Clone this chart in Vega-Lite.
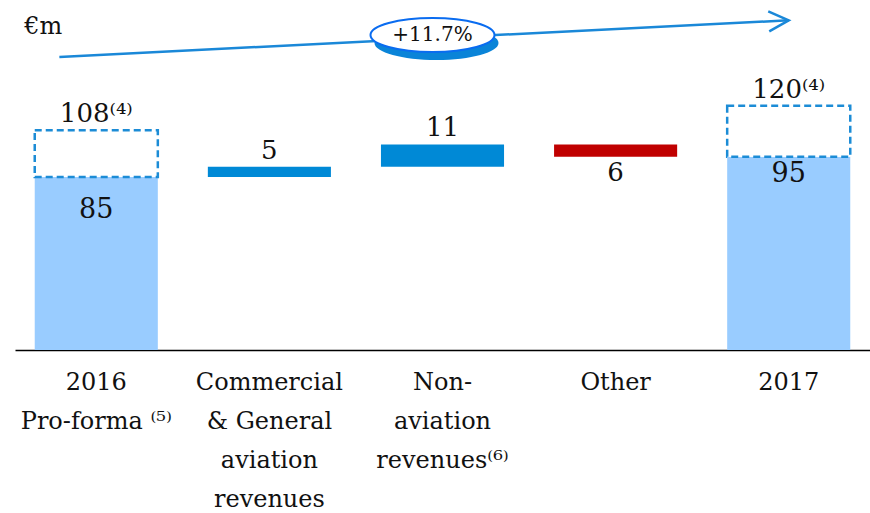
{
  "$schema": "https://vega.github.io/schema/vega-lite/v6.json",
  "width": 855,
  "height": 350,
  "padding": {"left": 15, "top": 0, "right": 0, "bottom": 163},
  "autosize": {"type": "none"},
  "config": {
    "view": {"stroke": null},
    "font": "DejaVu Serif",
    "axisX": {
      "title": null, "labelAngle": 0, "ticks": false, "domainColor": "#000000", "domainWidth": 1.5,
      "labelFontSize": 24, "labelColor": "#111111", "labelLineHeight": 39, "labelPadding": 20,
      "labelLimit": 0, "labelFont": "DejaVu Serif", "grid": false
    }
  },
  "datasets": {
    "steps": [
      {"cat": "2016|Pro-forma ⁽⁵⁾", "start": 0, "end": 85, "kind": "total"},
      {"cat": "Commercial|& General|aviation|revenues", "start": 85, "end": 90, "kind": "increase"},
      {"cat": "Non-|aviation|revenues⁽⁶⁾", "start": 90, "end": 101, "kind": "increase"},
      {"cat": "Other", "start": 101, "end": 95, "kind": "decrease"},
      {"cat": "2017", "start": 0, "end": 95, "kind": "total"}
    ],
    "boxes": [
      {"cat": "2016|Pro-forma ⁽⁵⁾", "lo": 85, "hi": 108},
      {"cat": "2017", "lo": 95, "hi": 120}
    ],
    "labels": [
      {"cat": "2016|Pro-forma ⁽⁵⁾", "v": 108, "text": "108⁽⁴⁾"},
      {"cat": "Commercial|& General|aviation|revenues", "v": 90, "text": "5"},
      {"cat": "Non-|aviation|revenues⁽⁶⁾", "v": 101, "text": "11"},
      {"cat": "2017", "v": 120, "text": "120⁽⁴⁾"},
      {"cat": "Other", "v": 95, "text": "6"},
      {"cat": "2016|Pro-forma ⁽⁵⁾", "v": 85, "text": "85"},
      {"cat": "2017", "v": 95, "text": "95"}
    ],
    "arrow": [
      {"c1": "2016|Pro-forma ⁽⁵⁾", "c2": "2017", "v1": 144, "v2": 162}
    ],
    "badge": [
      {"cat": "Non-|aviation|revenues⁽⁶⁾", "v": 154.8, "text": "+11.7%"}
    ],
    "unit": [
      {"cat": "2016|Pro-forma ⁽⁵⁾", "v": 158.7, "text": "€m"}
    ]
  },
  "layer": [
    {
      "data": {"name": "steps"},
      "mark": {"type": "bar"},
      "encoding": {
        "x": {
          "field": "cat", "type": "nominal",
          "scale": {
            "domain": ["2016|Pro-forma ⁽⁵⁾", "Commercial|& General|aviation|revenues", "Non-|aviation|revenues⁽⁶⁾", "Other", "2017"],
            "paddingInner": 0.289, "paddingOuter": 0.114
          },
          "axis": {"labelExpr": "split(datum.label, '|')", "domainColor": "#000000", "domainWidth": 1.5}
        },
        "y": {"field": "start", "type": "quantitative", "scale": {"domain": [0, 172], "nice": false}, "axis": null},
        "y2": {"field": "end"},
        "color": {
          "field": "kind", "type": "nominal",
          "scale": {"domain": ["total", "increase", "decrease"], "range": ["#99CCFF", "#0089D6", "#C00000"]},
          "legend": null
        }
      }
    },
    {
      "data": {"name": "boxes"},
      "mark": {"type": "bar", "fill": "white", "stroke": "#1C8CD6", "strokeWidth": 2.5, "strokeDash": [7, 4]},
      "encoding": {
        "x": {"field": "cat", "type": "nominal"},
        "y": {"field": "lo", "type": "quantitative"},
        "y2": {"field": "hi"}
      }
    },
    {
      "data": {"name": "labels"},
      "transform": [{"filter": {"field": "text", "oneOf": ["108⁽⁴⁾", "5", "11", "120⁽⁴⁾"]}}],
      "mark": {"type": "text", "fontSize": 26, "baseline": "alphabetic", "dy": -8, "color": "#111111"},
      "encoding": {
        "x": {"field": "cat", "type": "nominal"},
        "y": {"field": "v", "type": "quantitative"},
        "text": {"field": "text"}
      }
    },
    {
      "data": {"name": "labels"},
      "transform": [{"filter": "datum.text == '6'"}],
      "mark": {"type": "text", "fontSize": 26, "baseline": "top", "dy": 3, "color": "#111111"},
      "encoding": {
        "x": {"field": "cat", "type": "nominal"},
        "y": {"field": "v", "type": "quantitative"},
        "text": {"field": "text"}
      }
    },
    {
      "data": {"name": "labels"},
      "transform": [{"filter": "datum.text == '85'"}],
      "mark": {"type": "text", "fontSize": 27, "baseline": "middle", "dy": 33, "color": "#111111"},
      "encoding": {
        "x": {"field": "cat", "type": "nominal"},
        "y": {"field": "v", "type": "quantitative"},
        "text": {"field": "text"}
      }
    },
    {
      "data": {"name": "labels"},
      "transform": [{"filter": "datum.text == '95'"}],
      "mark": {"type": "text", "fontSize": 27, "baseline": "middle", "dy": 17, "color": "#111111"},
      "encoding": {
        "x": {"field": "cat", "type": "nominal"},
        "y": {"field": "v", "type": "quantitative"},
        "text": {"field": "text"}
      }
    },
    {
      "data": {"name": "arrow"},
      "mark": {"type": "rule", "stroke": "#1A88D8", "strokeWidth": 2.5},
      "encoding": {
        "x": {"field": "c1", "type": "nominal", "bandPosition": 0.2},
        "x2": {"field": "c2"},
        "y": {"field": "v1", "type": "quantitative"},
        "y2": {"field": "v2"}
      }
    },
    {
      "data": {"name": "arrow"},
      "mark": {"type": "point", "shape": "M-2,-1L0,0L-2,1", "filled": false, "stroke": "#1A88D8", "strokeWidth": 2.5, "size": 400, "angle": -2.85, "opacity": 1},
      "encoding": {
        "x": {"field": "c2", "type": "nominal"},
        "y": {"field": "v2", "type": "quantitative"}
      }
    },
    {
      "data": {"name": "badge"},
      "mark": {"type": "point", "shape": "M-1,0A1,0.274 0 1,0 1,0A1,0.274 0 1,0 -1,0Z", "filled": true, "fill": "#0A84D8", "strokeWidth": 0, "size": 15376, "xOffset": -6, "yOffset": 8, "opacity": 1},
      "encoding": {
        "x": {"field": "cat", "type": "nominal"},
        "y": {"field": "v", "type": "quantitative"}
      }
    },
    {
      "data": {"name": "badge"},
      "mark": {"type": "point", "shape": "M-1,0A1,0.274 0 1,0 1,0A1,0.274 0 1,0 -1,0Z", "filled": true, "fill": "white", "stroke": "#0A6CF0", "strokeWidth": 2, "size": 15376, "xOffset": -10, "opacity": 1},
      "encoding": {
        "x": {"field": "cat", "type": "nominal"},
        "y": {"field": "v", "type": "quantitative"}
      }
    },
    {
      "data": {"name": "badge"},
      "mark": {"type": "text", "fontSize": 20, "baseline": "middle", "dx": -10, "color": "#111111"},
      "encoding": {
        "x": {"field": "cat", "type": "nominal"},
        "y": {"field": "v", "type": "quantitative"},
        "text": {"field": "text"}
      }
    },
    {
      "data": {"name": "unit"},
      "mark": {"type": "text", "fontSize": 24, "baseline": "middle", "dx": -53, "color": "#111111"},
      "encoding": {
        "x": {"field": "cat", "type": "nominal"},
        "y": {"field": "v", "type": "quantitative"},
        "text": {"field": "text"}
      }
    }
  ]
}
